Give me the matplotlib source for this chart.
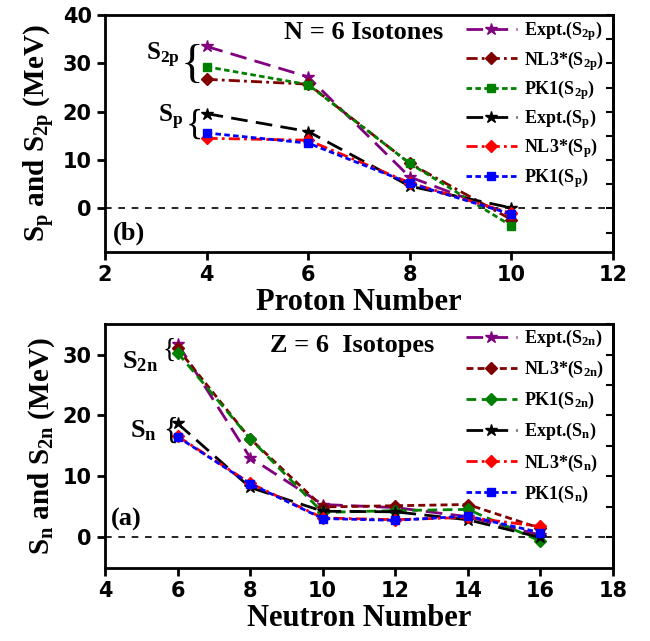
import numpy as np
import matplotlib
matplotlib.use("Agg")
import matplotlib.pyplot as plt

plt.rcParams['font.family'] = 'Liberation Serif'
plt.rcParams['mathtext.fontset'] = 'custom'
plt.rcParams['mathtext.rm'] = 'Liberation Serif:bold'
plt.rcParams['mathtext.bf'] = 'Liberation Serif:bold'
plt.rcParams['mathtext.it'] = 'Liberation Serif:bold'

# ---- N = 6 isotones (panel b) ----
Z = [4, 6, 8, 10]
expt_s2p = [33.5, 27.2, 6.5, -1.4]
nl3_s2p = [26.7, 25.7, 9.3, -2.3]
pk1_s2p = [29.3, 25.6, 9.3, -3.6]
expt_sp = [19.6, 15.9, 4.6, 0.1]
nl3_sp = [14.5, 14.1, 5.3, -1.0]
pk1_sp = [15.6, 13.5, 5.2, -1.2]

# ---- Z = 6 isotopes (panel a) ----
N = [6, 8, 10, 12, 14, 16]
expt_s2n = [31.8, 13.1, 5.4, 4.9, 3.4, 0.4]
nl3_s2n = [31.0, 16.2, 5.0, 5.2, 5.4, 1.5]
pk1_s2n = [30.3, 16.2, 4.1, 4.4, 4.6, -0.6]
expt_sn = [18.7, 8.2, 4.3, 4.2, 2.9, 0.0]
nl3_sn = [16.6, 8.9, 3.2, 2.9, 3.3, 1.8]
pk1_sn = [16.5, 8.8, 3.1, 2.8, 3.5, 0.8]

PURPLE = '#800080'
DRED = '#800000'
GREEN = '#008000'
RED = '#ff0000'
BLUE = '#0000ff'

fig = plt.figure(figsize=(6.5, 6.41), dpi=100)
axb = fig.add_axes([0.1615, 0.607, 0.7815, 0.3696])
axa = fig.add_axes([0.1615, 0.114, 0.7815, 0.3805])


def style_axes(ax, xlim, ylim, xticks, yticks, yminor):
    ax.set_xlim(xlim)
    ax.set_ylim(ylim)
    ax.set_xticks(xticks)
    ax.set_yticks(yticks)
    for s in ax.spines.values():
        s.set_linewidth(2)
    ax.tick_params(axis='both', direction='out', width=2, length=6, labelsize=15, top=False, right=False)
    for lab in ax.get_xticklabels() + ax.get_yticklabels():
        lab.set_fontfamily('DejaVu Sans')
        lab.set_fontweight('bold')
    sec = ax.secondary_yaxis('right')
    sec.set_yticks(yminor)
    sec.tick_params(direction='in', width=1.5, length=5, labelright=False)
    sec.spines['right'].set_linewidth(2)
    ax.axhline(0, color='black', ls=(0, (4, 4)), lw=1.2, zorder=0)


def finish_legend(ax, spacing):
    leg = ax.legend(loc='upper right', bbox_to_anchor=(1.0, 1.02), frameon=False, fontsize=13,
                    handlelength=2.8, labelspacing=spacing, handletextpad=0.4, borderaxespad=0.1)
    for t in leg.get_texts():
        t.set_fontweight('bold')


lw = 2.0
# panel b
axb.plot(Z, expt_s2p, color=PURPLE, ls=(0, (6, 3)), lw=lw, marker='*', ms=9, label=r'Expt.(S$_{\mathbf{2p}}$)')
axb.plot(Z, nl3_s2p, color=DRED, ls=(0, (4, 1.5, 1, 1.5)), lw=lw, marker='D', ms=6, label=r'NL3*(S$_{\mathbf{2p}}$)')
axb.plot(Z, pk1_s2p, color=GREEN, ls=(0, (2, 1.2)), lw=lw, marker='s', ms=6, label=r'PK1(S$_{\mathbf{2p}}$)')
axb.plot(Z, expt_sp, color='black', ls=(0, (6, 3)), lw=lw, marker='*', ms=9, label=r'Expt.(S$_{\mathbf{p}}$)')
axb.plot(Z, nl3_sp, color=RED, ls=(0, (4, 1.5, 1, 1.5)), lw=lw, marker='D', ms=6, label=r'NL3*(S$_{\mathbf{p}}$)')
axb.plot(Z, pk1_sp, color=BLUE, ls=(0, (2, 1.2)), lw=lw, marker='s', ms=6, label=r'PK1(S$_{\mathbf{p}}$)')
style_axes(axb, (2, 12), (-9, 40), [2, 4, 6, 8, 10, 12], [0, 10, 20, 30, 40], np.arange(-5, 41, 5))
axb.set_xlabel('Proton Number', fontsize=22, fontweight='bold', labelpad=2)
axb.set_ylabel(r'$\mathbf{S_p}$ and $\mathbf{S_{2p}}$ (MeV)', fontsize=21, fontweight='bold', labelpad=4)
axb.text(7.1, 36.3, 'N = 6 Isotones', fontsize=19, fontweight='bold', ha='center', va='center')
axb.text(2.15, -5.2, '(b)', fontsize=19, fontweight='bold', ha='left', va='center')
axb.text(3.15, 31.6, r'$\mathbf{S_{2p}}$', fontsize=18, ha='center', va='center')
axb.text(3.72, 29.6, '{', fontsize=34, ha='center', va='center')
axb.text(3.3, 18.8, r'$\mathbf{S_p}$', fontsize=18, ha='center', va='center')
axb.text(3.76, 17.3, '{', fontsize=26, ha='center', va='center')
finish_legend(axb, 0.3)

# panel a
axa.plot(N, expt_s2n, color=PURPLE, ls=(0, (6, 3)), lw=lw, marker='*', ms=9, label=r'Expt.(S$_{\mathbf{2n}}$)')
axa.plot(N, nl3_s2n, color=DRED, ls=(0, (2.5, 1.5)), lw=lw, marker='D', ms=6, label=r'NL3*(S$_{\mathbf{2n}}$)')
axa.plot(N, pk1_s2n, color=GREEN, ls=(0, (3.5, 2)), lw=lw, marker='D', ms=6, label=r'PK1(S$_{\mathbf{2n}}$)')
axa.plot(N, expt_sn, color='black', ls=(0, (6, 3)), lw=lw, marker='*', ms=9, label=r'Expt.(S$_{\mathbf{n}}$)')
axa.plot(N, nl3_sn, color=RED, ls=(0, (4, 1.5, 1, 1.5)), lw=lw, marker='D', ms=6, label=r'NL3*(S$_{\mathbf{n}}$)')
axa.plot(N, pk1_sn, color=BLUE, ls=(0, (2, 1.2)), lw=lw, marker='s', ms=6, label=r'PK1(S$_{\mathbf{n}}$)')
style_axes(axa, (4, 18), (-5, 35), [4, 6, 8, 10, 12, 14, 16, 18], [0, 10, 20, 30], np.arange(0, 36, 5))
axa.set_xlabel('Neutron Number', fontsize=22, fontweight='bold', labelpad=2)
axa.set_ylabel(r'$\mathbf{S_n}$ and $\mathbf{S_{2n}}$ (MeV)', fontsize=21, fontweight='bold', labelpad=4)
axa.text(10.8, 31.5, 'Z = 6  Isotopes', fontsize=19, fontweight='bold', ha='center', va='center')
axa.text(4.15, 3.0, '(a)', fontsize=19, fontweight='bold', ha='left', va='center')
axa.text(4.97, 28.9, r'$\mathbf{S_{2n}}$', fontsize=19, ha='center', va='center')
axa.text(5.78, 30.6, '{', fontsize=20, ha='center', va='center')
axa.text(5.06, 17.5, r'$\mathbf{S_n}$', fontsize=19, ha='center', va='center')
axa.text(5.8, 17.4, '{', fontsize=22, ha='center', va='center')
finish_legend(axa, 0.55)

fig.savefig('out.png', dpi=100)
